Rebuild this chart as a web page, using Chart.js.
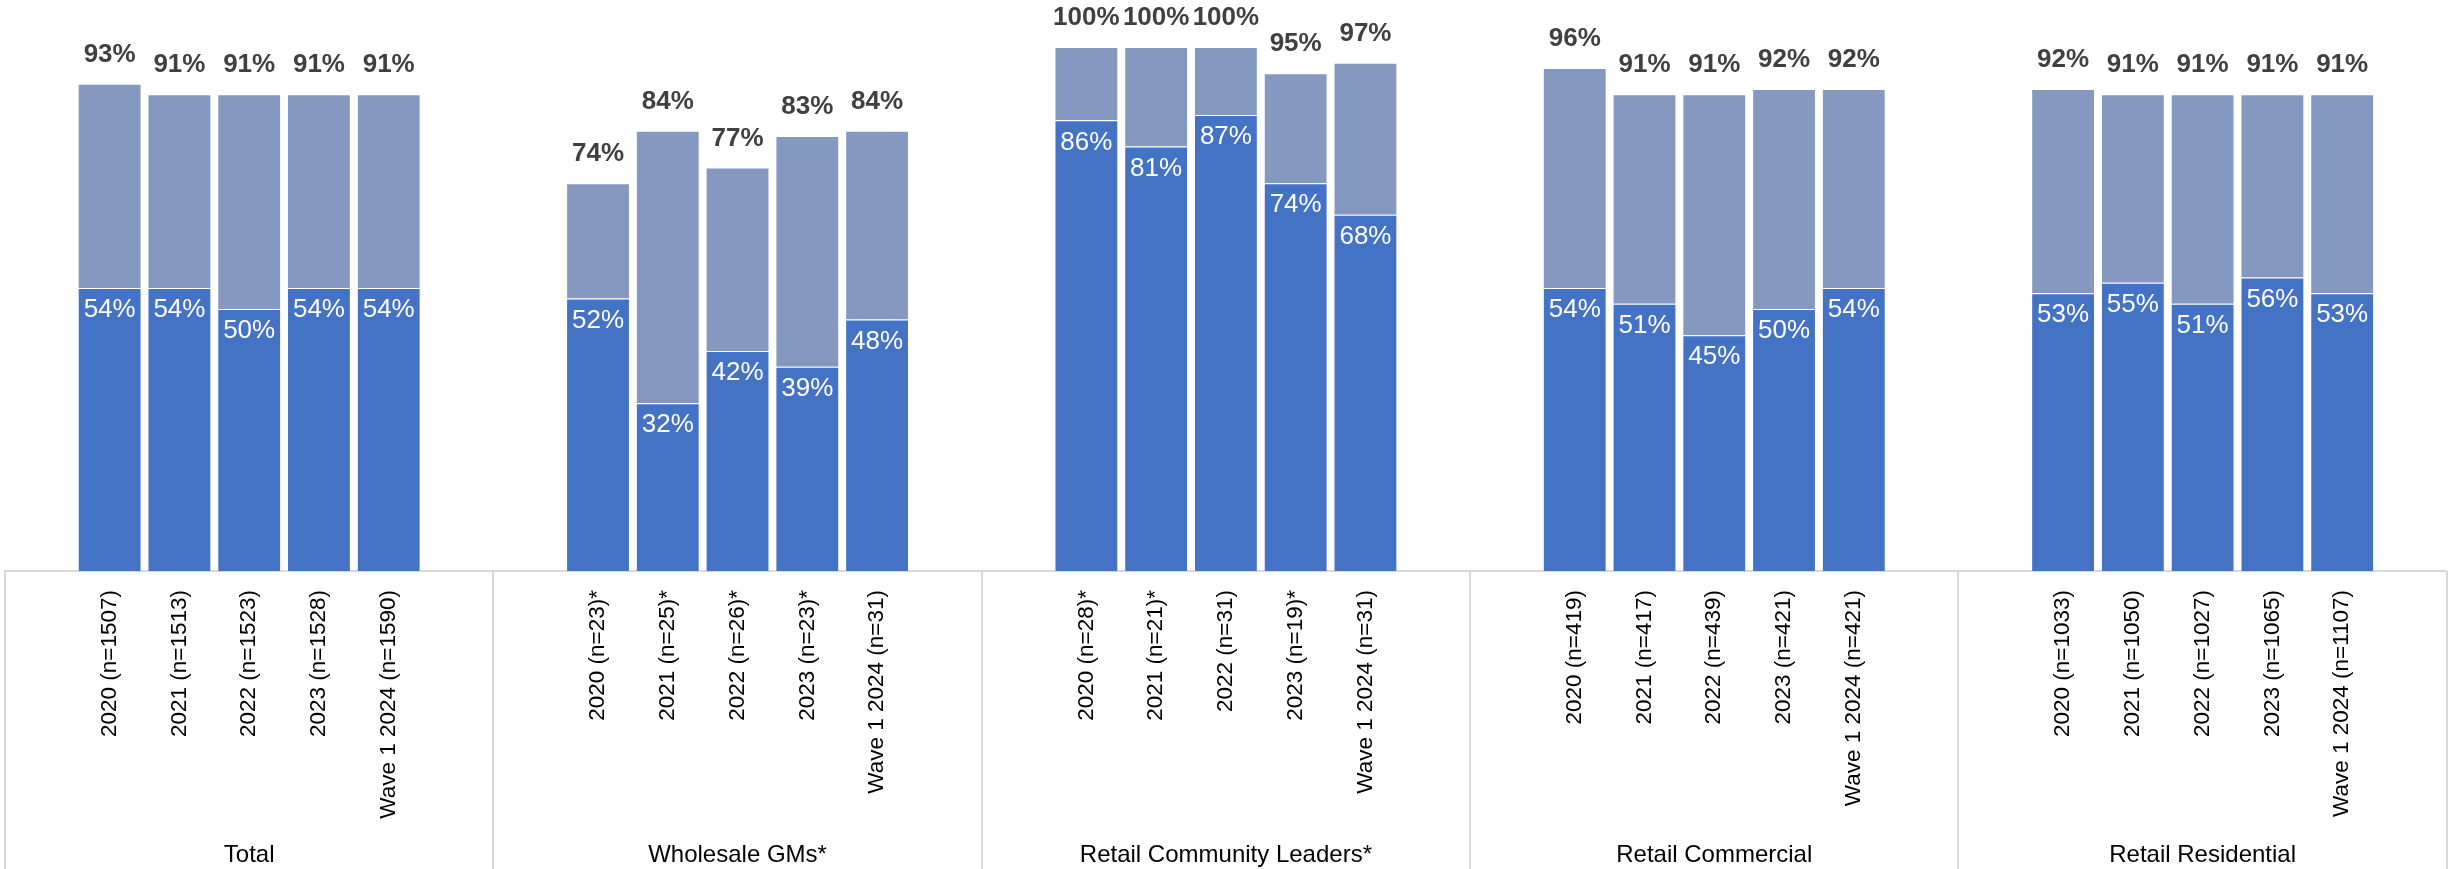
<!DOCTYPE html>
<html>
<head>
<meta charset="utf-8">
<script src="https://cdn.jsdelivr.net/npm/chart.js@4"></script>
<style>
  html, body { margin: 0; padding: 0; background: #fff; }
  #wrap { width: 2458px; height: 869px; }
</style>
</head>
<body>
<div id="wrap"><canvas id="mainChart" width="2458" height="869"></canvas></div>
<script>
// Chart values
const groups = ['Total', 'Wholesale GMs*', 'Retail Community Leaders*', 'Retail Commercial', 'Retail Residential'];

const waveLabels = [
  ['2020 (n=1507)', '2021 (n=1513)', '2022 (n=1523)', '2023 (n=1528)', 'Wave 1 2024 (n=1590)'],
  ['2020 (n=23)*', '2021 (n=25)*', '2022 (n=26)*', '2023 (n=23)*', 'Wave 1 2024 (n=31)'],
  ['2020 (n=28)*', '2021 (n=21)*', '2022 (n=31)', '2023 (n=19)*', 'Wave 1 2024 (n=31)'],
  ['2020 (n=419)', '2021 (n=417)', '2022 (n=439)', '2023 (n=421)', 'Wave 1 2024 (n=421)'],
  ['2020 (n=1033)', '2021 (n=1050)', '2022 (n=1027)', '2023 (n=1065)', 'Wave 1 2024 (n=1107)']
];

// dark (bottom) share
const lowerValues = [
  [54, 54, 50, 54, 54],
  [52, 32, 42, 39, 48],
  [86, 81, 87, 74, 68],
  [54, 51, 45, 50, 54],
  [53, 55, 51, 56, 53]
];

// total (top of stack)
const totalValues = [
  [93, 91, 91, 91, 91],
  [74, 84, 77, 83, 84],
  [100, 100, 100, 95, 97],
  [96, 91, 91, 92, 92],
  [92, 91, 91, 91, 91]
];

// build category table: one empty slot each side of a group
const labels = [];
const lowerData = [];
const upperData = [];
const totalData = [];
groups.forEach((g, gi) => {
  labels.push('');
  lowerData.push(null);
  upperData.push(null);
  totalData.push(null);
  waveLabels[gi].forEach((w, i) => {
    labels.push(w);
    lowerData.push(lowerValues[gi][i]);
    upperData.push(totalValues[gi][i] - lowerValues[gi][i]);
    totalData.push(totalValues[gi][i]);
  });
  labels.push('');
  lowerData.push(null);
  upperData.push(null);
  totalData.push(null);
});

const FONT = "'Liberation Sans', Arial, sans-serif";

// value labels + group separators
const labelPlugin = {
  id: 'labelPlugin',
  afterDatasetsDraw(chart) {
    const ctx = chart.ctx;
    const lower = chart.getDatasetMeta(0).data;
    const upper = chart.getDatasetMeta(1).data;
    ctx.save();
    ctx.textAlign = 'center';
    ctx.textBaseline = 'middle';
    lower.forEach((bar, i) => {
      if (lowerData[i] === null) return;
      ctx.font = '26px ' + FONT;
      ctx.fillStyle = '#ffffff';
      ctx.fillText(lowerData[i] + '%', bar.x, bar.y + 22);
      ctx.font = 'bold 26px ' + FONT;
      ctx.fillStyle = '#404040';
      ctx.fillText(totalData[i] + '%', upper[i].x, upper[i].y - 29);
    });
    ctx.restore();
  },
  afterDraw(chart) {
    const ctx = chart.ctx;
    const area = chart.chartArea;
    const step = (area.right - area.left) / groups.length;
    ctx.save();
    ctx.strokeStyle = '#d9d9d9';
    ctx.lineWidth = 2;
    for (let i = 0; i <= groups.length; i++) {
      const x = Math.round(area.left + i * step);
      ctx.beginPath();
      ctx.moveTo(x, area.bottom);
      ctx.lineTo(x, chart.height);
      ctx.stroke();
    }
    ctx.restore();
  }
};

const ctx = document.getElementById('mainChart').getContext('2d');

const mainChart = new Chart(ctx, {
  type: 'bar',
  data: {
    labels: labels,
    datasets: [
      {
        label: 'Lower',
        data: lowerData,
        backgroundColor: '#4472C4',
        borderColor: 'rgba(255,255,255,0.35)',
        borderWidth: 1,
        categoryPercentage: 1,
        barPercentage: 0.915
      },
      {
        label: 'Upper',
        data: upperData,
        backgroundColor: '#8599C0',
        borderColor: 'rgba(255,255,255,0.35)',
        borderWidth: 1,
        categoryPercentage: 1,
        barPercentage: 0.915
      }
    ]
  },
  options: {
    responsive: false,
    animation: false,
    layout: {
      padding: { top: 47, left: 5, right: 5, bottom: 0 }
    },
    plugins: {
      legend: { display: false },
      tooltip: { enabled: false }
    },
    scales: {
      y: {
        stacked: true,
        display: false,
        min: 0,
        max: 100
      },
      x: {
        stacked: true,
        position: 'bottom',
        grid: { display: false, drawTicks: false },
        border: { display: true, color: '#d9d9d9', width: 2 },
        ticks: {
          autoSkip: false,
          minRotation: 90,
          maxRotation: 90,
          padding: 19,
          color: '#000000',
          font: { family: FONT, size: 22.5 }
        },
        afterFit(scale) {
          scale.height = 251;
        }
      },
      x2: {
        type: 'category',
        position: 'bottom',
        labels: groups,
        offset: true,
        grid: { display: false, drawTicks: false },
        border: { display: false },
        ticks: {
          autoSkip: false,
          maxRotation: 0,
          padding: 19,
          color: '#000000',
          font: { family: FONT, size: 24 }
        },
        afterFit(scale) {
          scale.height = 47;
        }
      }
    }
  },
  plugins: [labelPlugin]
});
</script>
</body>
</html>
